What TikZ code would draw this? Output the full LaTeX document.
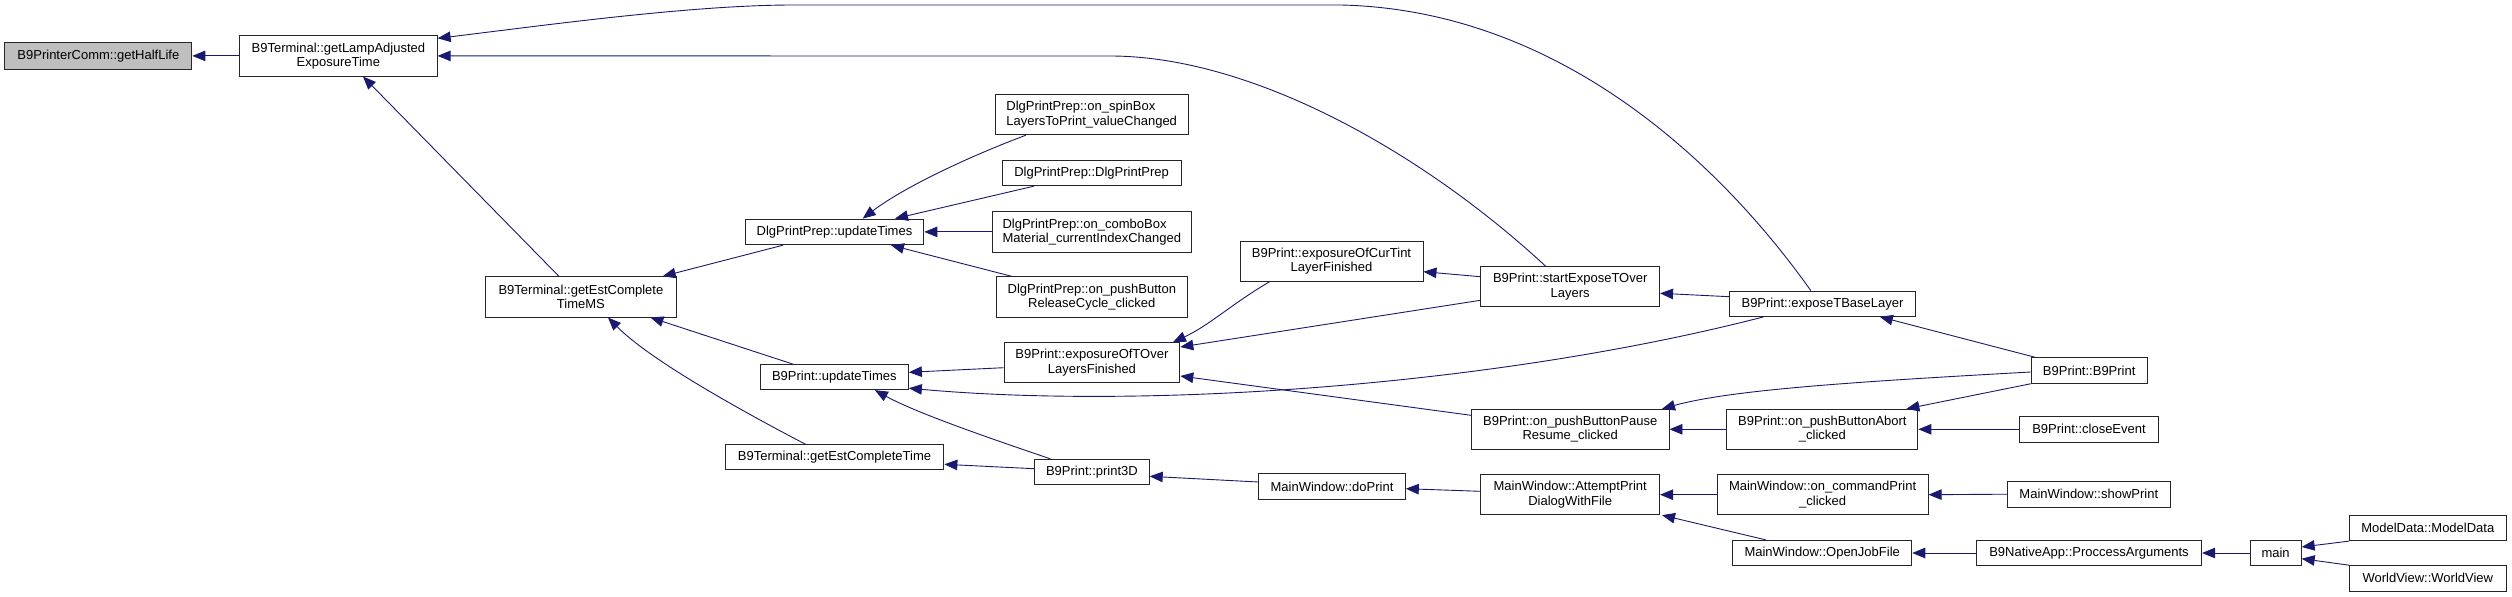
\documentclass[tikz,border=0pt]{standalone}
\usepackage{fontspec}
\setmainfont{Liberation Sans}
\usetikzlibrary{arrows.meta}
\definecolor{edgeblue}{RGB}{25,25,112}
\definecolor{boxgray}{RGB}{191,191,191}
\begin{document}
\begin{tikzpicture}[x=1pt,y=-1pt,
  fn/.style={draw=black!85, line width=0.9pt, inner sep=0pt, align=center,
    font=\fontsize{13}{14.5}\selectfont},
  cl/.style={draw=edgeblue, line width=0.9pt, -{Triangle[length=13pt,width=10.5pt]}, color=edgeblue}]
\fill[white] (0,0) rectangle (2512,597);
\useasboundingbox (0,0) rectangle (2512,597);
% nodes
\node[fn, fill=boxgray, minimum width=187pt, minimum height=26.3pt] (hl) at (98.4,55.9) {B9PrinterComm::getHalfLife};
\node[fn, minimum width=197.5pt, minimum height=40.3pt] (lamp) at (338.4,55.9) {B9Terminal::getLampAdjusted\\ExposureTime};
\node[fn, minimum width=190.3pt, minimum height=40.3pt] (estMS) at (580.9,296.9) {B9Terminal::getEstComplete\\TimeMS};
\node[fn, minimum width=178.8pt, minimum height=25.7pt] (dupd) at (834.5,231.9) {DlgPrintPrep::updateTimes};
\node[fn, align=left, minimum width=193.5pt, minimum height=40pt] (spin) at (1091.7,114.7) {DlgPrintPrep::on\_spinBox\\LayersToPrint\_valueChanged};
\node[fn, minimum width=178.8pt, minimum height=25pt] (dctor) at (1091.6,173.2) {DlgPrintPrep::DlgPrintPrep};
\node[fn, align=left, minimum width=198.8pt, minimum height=40.3pt] (combo) at (1091.8,231.9) {DlgPrintPrep::on\_comboBox\\Material\_currentIndexChanged};
\node[fn, minimum width=190.6pt, minimum height=40.3pt] (release) at (1091.8,296.9) {DlgPrintPrep::on\_pushButton\\ReleaseCycle\_clicked};
\node[fn, minimum width=148.2pt, minimum height=25pt] (bupd) at (834.3,377.2) {B9Print::updateTimes};
\node[fn, minimum width=175.9pt, minimum height=39.6pt] (tover) at (1091.9,362.5) {B9Print::exposureOfTOver\\LayersFinished};
\node[fn, minimum width=218.8pt, minimum height=25pt] (estT) at (834.5,457.2) {B9Terminal::getEstCompleteTime};
\node[fn, minimum width=114.7pt, minimum height=25pt] (print3d) at (1091.9,471.8) {B9Print::print3D};
\node[fn, minimum width=183pt, minimum height=40pt] (curtint) at (1331.5,261) {B9Print::exposureOfCurTint\\LayerFinished};
\node[fn, minimum width=146.7pt, minimum height=25.3pt] (doprint) at (1332,486.4) {MainWindow::doPrint};
\node[fn, minimum width=178.8pt, minimum height=39.6pt] (startexp) at (1570.2,286.5) {B9Print::startExposeTOver\\Layers};
\node[fn, minimum width=197.6pt, minimum height=40pt] (pause) at (1570.2,429.3) {B9Print::on\_pushButtonPause\\Resume\_clicked};
\node[fn, minimum width=178.8pt, minimum height=40pt] (attempt) at (1570.2,494.7) {MainWindow::AttemptPrint\\DialogWithFile};
\node[fn, minimum width=185.5pt, minimum height=25.3pt] (base) at (1822.5,303.7) {B9Print::exposeTBaseLayer};
\node[fn, minimum width=191pt, minimum height=40pt] (abort) at (1822.4,429.3) {B9Print::on\_pushButtonAbort\\\_clicked};
\node[fn, minimum width=211pt, minimum height=40pt] (cmdprint) at (1822.6,494.7) {MainWindow::on\_commandPrint\\\_clicked};
\node[fn, minimum width=179.2pt, minimum height=25.4pt] (openjob) at (1822.2,553) {MainWindow::OpenJobFile};
\node[fn, minimum width=116.1pt, minimum height=25.6pt] (b9ctor) at (2089.2,370.5) {B9Print::B9Print};
\node[fn, minimum width=139pt, minimum height=25.3pt] (close) at (2089,429.3) {B9Print::closeEvent};
\node[fn, minimum width=162.8pt, minimum height=25.7pt] (show) at (2088.8,494.2) {MainWindow::showPrint};
\node[fn, minimum width=225.3pt, minimum height=25.4pt] (proc) at (2089,553) {B9NativeApp::ProccessArguments};
\node[fn, minimum width=51.2pt, minimum height=25.4pt] (main) at (2275.6,553) {main};
\node[fn, minimum width=156.4pt, minimum height=25.7pt] (model) at (2427.8,527.8) {ModelData::ModelData};
\node[fn, minimum width=156.4pt, minimum height=25.3pt] (world) at (2427.8,578.3) {WorldView::WorldView};
% edges
\draw[cl] (lamp.west) -- (hl.east);
\draw[cl] ([xshift=-11.7pt]base.north) .. controls (1721,164) and (1560,10) .. (1341,5) -- (793,5) .. controls (690,5) and (540,26) .. ([yshift=17.6pt]lamp.east);
\draw[cl] ([xshift=-24.5pt]startexp.north) .. controls (1420,150) and (1250,56) .. (1110,56) -- (lamp.east);
\draw[cl] ([xshift=-22pt]estMS.north) -- ([xshift=24.6pt]lamp.south);
\draw[cl] ([xshift=-51.5pt]dupd.south) -- ([xshift=81.8pt]estMS.north);
\draw[cl] ([xshift=-41pt]bupd.north) -- ([xshift=69.5pt]estMS.south);
\draw[cl] ([xshift=-29pt]estT.north) .. controls (740,410) and (650,360) .. ([xshift=27.1pt]estMS.south);
\draw[cl] ([xshift=-65.7pt]spin.south) .. controls (960,160) and (900,190) .. ([xshift=28.2pt]dupd.north);
\draw[cl] ([xshift=-57.6pt]dctor.south) -- ([xshift=60.5pt]dupd.north);
\draw[cl] (combo.west) -- (dupd.east);
\draw[cl] ([xshift=-80.2pt]release.north) -- ([xshift=56.5pt]dupd.south);
\draw[cl] ([yshift=-5.2pt]tover.west) -- ([yshift=4.9pt]bupd.east);
\draw[cl] ([xshift=-58.7pt]base.south) .. controls (1500,385) and (1150,410) .. ([yshift=-11pt]bupd.east);
\draw[cl] ([xshift=-41.5pt]print3d.north) .. controls (1010,445) and (920,415) .. ([xshift=40.6pt]bupd.south);
\draw[cl] ([yshift=3.1pt]print3d.west) -- ([yshift=-7.1pt]estT.east);
\draw[cl] ([xshift=-61.5pt]curtint.south) .. controls (1230,305) and (1210,325) .. ([xshift=81pt]tover.north);
\draw[cl] ([yshift=-13.8pt]startexp.west) -- ([yshift=15.5pt]tover.east);
\draw[cl] ([yshift=14pt]pause.west) -- ([yshift=-13.5pt]tover.east);
\draw[cl] ([yshift=9.8pt]startexp.west) -- ([yshift=-10.7pt]curtint.east);
\draw[cl] ([yshift=7pt]base.west) -- ([yshift=-6.8pt]startexp.east);
\draw[cl] ([xshift=-54.2pt]b9ctor.north) -- ([xshift=57.3pt]base.south);
\draw[cl] ([yshift=-1.5pt]b9ctor.west) .. controls (1850,382) and (1730,390) .. ([xshift=91.8pt]pause.north);
\draw[cl] (abort.west) -- (pause.east);
\draw[cl] (b9ctor.south west) -- ([xshift=-12pt]abort.north east);
\draw[cl] (close.west) -- (abort.east);
\draw[cl] ([yshift=4.4pt]doprint.west) -- ([yshift=-4.5pt]print3d.east);
\draw[cl] ([yshift=3.4pt]attempt.west) -- ([yshift=-2.3pt]doprint.east);
\draw[cl] (cmdprint.west) -- (attempt.east);
\draw[cl] ([xshift=-56.5pt]openjob.north) -- ([xshift=91.8pt]attempt.south);
\draw[cl] (show.west) -- (cmdprint.east);
\draw[cl] (proc.west) -- (openjob.east);
\draw[cl] (main.west) -- (proc.east);
\draw[cl] (model.south west) -- ([yshift=6pt]main.east);
\draw[cl] (world.north west) -- ([yshift=-5.7pt]main.east);
\end{tikzpicture}
\end{document}
